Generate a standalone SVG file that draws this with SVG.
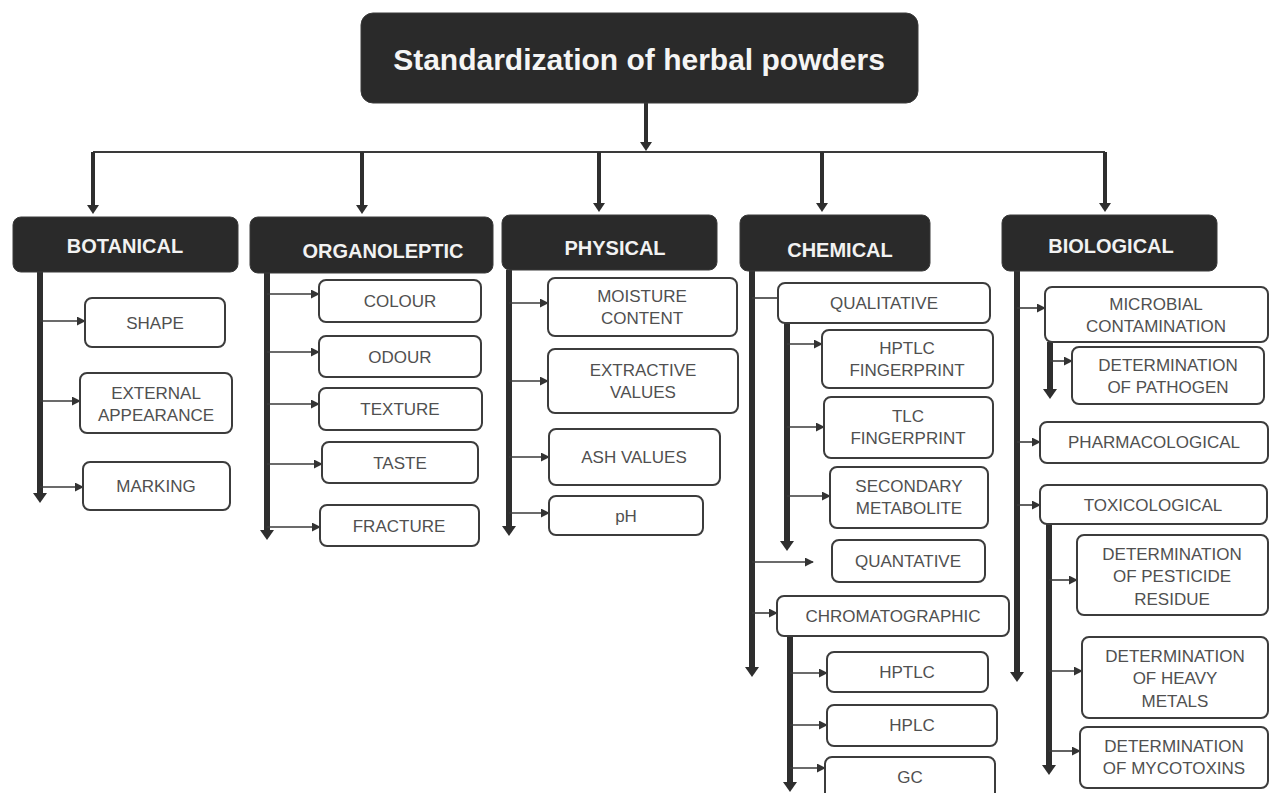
<svg xmlns="http://www.w3.org/2000/svg" width="1270" height="793" viewBox="0 0 1270 793">
<style>
.hd{fill:#2a2a2a;stroke:#3a3a3a;stroke-width:1}
.nb{fill:#fff;stroke:#3c3c3c;stroke-width:2}
.ht{font-family:"Liberation Sans",Arial,sans-serif;font-weight:bold;font-size:20px;fill:#f2f2f2;text-anchor:middle}
.tt{font-family:"Liberation Sans",Arial,sans-serif;font-weight:bold;font-size:30px;fill:#f5f5f5;text-anchor:middle}
.nt{font-family:"Liberation Sans",Arial,sans-serif;font-size:17px;fill:#505050;text-anchor:middle}
.tk{stroke:#2e2e2e;stroke-width:6;fill:none}
.top{stroke:#2e2e2e;stroke-width:4;fill:none}
.th{stroke:#3a3a3a;stroke-width:1.6;fill:none}
</style>
<defs>
<marker id="ah" viewBox="0 0 10 10" refX="9" refY="5" markerWidth="9" markerHeight="9" markerUnits="userSpaceOnUse" orient="auto"><path d="M0,0 L10,5 L0,10 z" fill="#333"/></marker>
<marker id="hh" viewBox="0 0 10 14" refX="1" refY="7" markerWidth="10" markerHeight="14" markerUnits="userSpaceOnUse" orient="auto"><path d="M0,0 L10,7 L0,14 z" fill="#2e2e2e"/></marker>
<marker id="hm" viewBox="0 0 9 12" refX="1" refY="6" markerWidth="9" markerHeight="12" markerUnits="userSpaceOnUse" orient="auto"><path d="M0,0 L9,6 L0,12 z" fill="#2e2e2e"/></marker>
</defs>
<rect width="1270" height="793" fill="#fff"/>
<g id="connectors">
<line class="top" x1="646" y1="103" x2="646" y2="143" marker-end="url(#hm)"/>
<line x1="93" y1="152" x2="1105" y2="152" stroke="#3a3a3a" stroke-width="2"/>
<line class="top" x1="93" y1="152" x2="93" y2="206" marker-end="url(#hm)"/>
<line class="top" x1="362" y1="152" x2="362" y2="206" marker-end="url(#hm)"/>
<line class="top" x1="599" y1="152" x2="599" y2="204" marker-end="url(#hm)"/>
<line class="top" x1="822" y1="152" x2="822" y2="204" marker-end="url(#hm)"/>
<line class="top" x1="1105" y1="152" x2="1105" y2="204" marker-end="url(#hm)"/>
<line class="tk" x1="40" y1="272" x2="40" y2="494" marker-end="url(#hh)"/>
<line class="tk" x1="267" y1="272" x2="267" y2="531" marker-end="url(#hh)"/>
<line class="tk" x1="509" y1="270" x2="509" y2="527" marker-end="url(#hh)"/>
<line class="tk" x1="752" y1="270" x2="752" y2="668" marker-end="url(#hh)"/>
<line class="tk" x1="787" y1="323" x2="787" y2="542" marker-end="url(#hh)"/>
<line class="tk" x1="790" y1="636" x2="790" y2="783" marker-end="url(#hh)"/>
<line class="tk" x1="1017" y1="270" x2="1017" y2="673" marker-end="url(#hh)"/>
<line class="tk" x1="1050" y1="342" x2="1050" y2="390" marker-end="url(#hh)"/>
<line class="tk" x1="1049" y1="524" x2="1049" y2="766" marker-end="url(#hh)"/>
<line class="th" x1="40" y1="321" x2="85" y2="321" marker-end="url(#ah)"/>
<line class="th" x1="40" y1="401" x2="80" y2="401" marker-end="url(#ah)"/>
<line class="th" x1="40" y1="487" x2="83" y2="487" marker-end="url(#ah)"/>
<line class="th" x1="267" y1="294" x2="319" y2="294" marker-end="url(#ah)"/>
<line class="th" x1="267" y1="352" x2="319" y2="352" marker-end="url(#ah)"/>
<line class="th" x1="267" y1="404" x2="319" y2="404" marker-end="url(#ah)"/>
<line class="th" x1="267" y1="464" x2="322" y2="464" marker-end="url(#ah)"/>
<line class="th" x1="267" y1="527" x2="320" y2="527" marker-end="url(#ah)"/>
<line class="th" x1="509" y1="303" x2="548" y2="303" marker-end="url(#ah)"/>
<line class="th" x1="509" y1="381" x2="548" y2="381" marker-end="url(#ah)"/>
<line class="th" x1="509" y1="457" x2="549" y2="457" marker-end="url(#ah)"/>
<line class="th" x1="509" y1="513" x2="549" y2="513" marker-end="url(#ah)"/>
<line class="th" x1="752" y1="298" x2="778" y2="298"/>
<line class="th" x1="787" y1="344" x2="822" y2="344" marker-end="url(#ah)"/>
<line class="th" x1="787" y1="427" x2="824" y2="427" marker-end="url(#ah)"/>
<line class="th" x1="787" y1="496" x2="830" y2="496" marker-end="url(#ah)"/>
<line class="th" x1="752" y1="562" x2="813" y2="562" marker-end="url(#ah)"/>
<line class="th" x1="752" y1="613" x2="777" y2="613" marker-end="url(#ah)"/>
<line class="th" x1="790" y1="673" x2="827" y2="673" marker-end="url(#ah)"/>
<line class="th" x1="790" y1="725" x2="827" y2="725" marker-end="url(#ah)"/>
<line class="th" x1="790" y1="768" x2="825" y2="768" marker-end="url(#ah)"/>
<line class="th" x1="1017" y1="308" x2="1045" y2="308" marker-end="url(#ah)"/>
<line class="th" x1="1017" y1="442" x2="1040" y2="442" marker-end="url(#ah)"/>
<line class="th" x1="1017" y1="505" x2="1040" y2="505" marker-end="url(#ah)"/>
<line class="th" x1="1050" y1="361" x2="1072" y2="361" marker-end="url(#ah)"/>
<line class="th" x1="1049" y1="580" x2="1077" y2="580" marker-end="url(#ah)"/>
<line class="th" x1="1049" y1="671" x2="1082" y2="671" marker-end="url(#ah)"/>
<line class="th" x1="1049" y1="751" x2="1080" y2="751" marker-end="url(#ah)"/>
</g>
<g id="title"><rect class="hd" x="361" y="13" width="557" height="90" rx="12"/><text class="tt" x="639" y="70">Standardization of herbal powders</text></g>
<g id="botanical"><rect class="hd" x="13" y="217" width="225" height="55" rx="8"/><text class="ht" x="125" y="253">BOTANICAL</text></g>
<g id="organoleptic"><rect class="hd" x="250" y="217" width="243" height="56" rx="8"/><text class="ht" x="383" y="258">ORGANOLEPTIC</text></g>
<g id="physical"><rect class="hd" x="502" y="215" width="215" height="55" rx="8"/><text class="ht" x="615" y="255">PHYSICAL</text></g>
<g id="chemical"><rect class="hd" x="740" y="215" width="190" height="56" rx="8"/><text class="ht" x="840" y="257">CHEMICAL</text></g>
<g id="biological"><rect class="hd" x="1002" y="215" width="215" height="56" rx="8"/><text class="ht" x="1111" y="253">BIOLOGICAL</text></g>
<g id="shape"><rect class="nb" x="85" y="298" width="140" height="49" rx="7"/><text class="nt" x="155" y="329">SHAPE</text></g>
<g id="external"><rect class="nb" x="80" y="373" width="152" height="60" rx="7"/><text class="nt" x="156" y="399">EXTERNAL</text><text class="nt" x="156" y="421">APPEARANCE</text></g>
<g id="marking"><rect class="nb" x="83" y="462" width="147" height="48" rx="7"/><text class="nt" x="156" y="492">MARKING</text></g>
<g id="colour"><rect class="nb" x="319" y="280" width="162" height="42" rx="7"/><text class="nt" x="400" y="307">COLOUR</text></g>
<g id="odour"><rect class="nb" x="319" y="336" width="162" height="41" rx="7"/><text class="nt" x="400" y="363">ODOUR</text></g>
<g id="texture"><rect class="nb" x="319" y="388" width="163" height="42" rx="7"/><text class="nt" x="400" y="415">TEXTURE</text></g>
<g id="taste"><rect class="nb" x="322" y="442" width="156" height="41" rx="7"/><text class="nt" x="400" y="469">TASTE</text></g>
<g id="fracture"><rect class="nb" x="320" y="505" width="159" height="41" rx="7"/><text class="nt" x="399" y="532">FRACTURE</text></g>
<g id="moisture"><rect class="nb" x="548" y="278" width="189" height="58" rx="7"/><text class="nt" x="642" y="302">MOISTURE</text><text class="nt" x="642" y="324">CONTENT</text></g>
<g id="extractive"><rect class="nb" x="548" y="349" width="190" height="64" rx="7"/><text class="nt" x="643" y="376">EXTRACTIVE</text><text class="nt" x="643" y="398">VALUES</text></g>
<g id="ash"><rect class="nb" x="549" y="429" width="171" height="56" rx="7"/><text class="nt" x="634" y="463">ASH VALUES</text></g>
<g id="ph"><rect class="nb" x="549" y="496" width="154" height="39" rx="7"/><text class="nt" x="626" y="522">pH</text></g>
<g id="qualitative"><rect class="nb" x="778" y="283" width="212" height="40" rx="7"/><text class="nt" x="884" y="309">QUALITATIVE</text></g>
<g id="hptlc-fp"><rect class="nb" x="822" y="330" width="171" height="58" rx="7"/><text class="nt" x="907" y="354">HPTLC</text><text class="nt" x="907" y="376">FINGERPRINT</text></g>
<g id="tlc-fp"><rect class="nb" x="824" y="397" width="169" height="61" rx="7"/><text class="nt" x="908" y="422">TLC</text><text class="nt" x="908" y="444">FINGERPRINT</text></g>
<g id="secondary"><rect class="nb" x="830" y="467" width="158" height="61" rx="7"/><text class="nt" x="909" y="492">SECONDARY</text><text class="nt" x="909" y="514">METABOLITE</text></g>
<g id="quantative"><rect class="nb" x="832" y="540" width="153" height="42" rx="7"/><text class="nt" x="908" y="567">QUANTATIVE</text></g>
<g id="chromatographic"><rect class="nb" x="777" y="596" width="232" height="40" rx="7"/><text class="nt" x="893" y="622">CHROMATOGRAPHIC</text></g>
<g id="hptlc"><rect class="nb" x="827" y="652" width="161" height="40" rx="7"/><text class="nt" x="907" y="678">HPTLC</text></g>
<g id="hplc"><rect class="nb" x="827" y="705" width="170" height="41" rx="7"/><text class="nt" x="912" y="731">HPLC</text></g>
<g id="gc"><rect class="nb" x="825" y="757" width="170" height="52" rx="7"/><text class="nt" x="910" y="783">GC</text></g>
<g id="microbial"><rect class="nb" x="1045" y="287" width="223" height="55" rx="7"/><text class="nt" x="1156" y="310">MICROBIAL</text><text class="nt" x="1156" y="332">CONTAMINATION</text></g>
<g id="pathogen"><rect class="nb" x="1072" y="347" width="192" height="57" rx="7"/><text class="nt" x="1168" y="371">DETERMINATION</text><text class="nt" x="1168" y="393">OF PATHOGEN</text></g>
<g id="pharmacological"><rect class="nb" x="1040" y="422" width="228" height="41" rx="7"/><text class="nt" x="1154" y="448">PHARMACOLOGICAL</text></g>
<g id="toxicological"><rect class="nb" x="1040" y="485" width="227" height="39" rx="7"/><text class="nt" x="1153" y="511">TOXICOLOGICAL</text></g>
<g id="pesticide"><rect class="nb" x="1077" y="535" width="191" height="80" rx="7"/><text class="nt" x="1172" y="560">DETERMINATION</text><text class="nt" x="1172" y="582">OF PESTICIDE</text><text class="nt" x="1172" y="605">RESIDUE</text></g>
<g id="heavy"><rect class="nb" x="1082" y="637" width="186" height="81" rx="7"/><text class="nt" x="1175" y="662">DETERMINATION</text><text class="nt" x="1175" y="684">OF HEAVY</text><text class="nt" x="1175" y="707">METALS</text></g>
<g id="mycotoxins"><rect class="nb" x="1080" y="727" width="188" height="61" rx="7"/><text class="nt" x="1174" y="752">DETERMINATION</text><text class="nt" x="1174" y="774">OF MYCOTOXINS</text></g>
</svg>
